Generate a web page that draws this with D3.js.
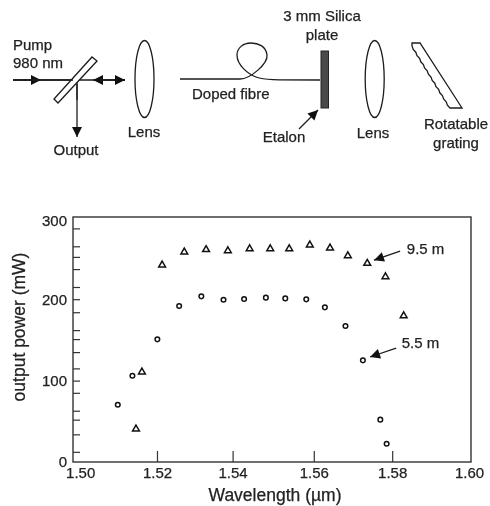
<!DOCTYPE html>
<html lang="en">
<head>
  <meta charset="UTF-8">
  <title>Fibre laser setup and output power</title>
  <style>
    html, body { margin: 0; padding: 0; background: #fff; }
    svg { display: block; filter: blur(0.45px); }
    text { font-family: 'Liberation Sans', Arial, sans-serif; font-size: 15px; fill: #222; stroke: #222; stroke-width: 0.25px; }
    .tick text { font-size: 15px; }
    .axis-title { font-size: 17.5px; }
    .tick line, .domain { stroke: #333; }
    .ln { fill: none; stroke: #1c1c1c; stroke-width: 1.3px; }
  </style>
  <script src="https://d3js.org/d3.v7.min.js"></script>
</head>
<body>
<svg width="490" height="506"></svg>
<script>
  // values
  const xTicks = [1.5013, 1.5207, 1.5398, 1.5603, 1.5801, 1.5995];
  const yTicks = [0, 100, 200, 300];
  const yMinorTicks = [12.5, 34, 52, 63, 85, 115, 135, 151, 162, 184, 215, 237, 252, 265, 287];

  const m55Wave = [1.5108, 1.5145, 1.5208, 1.5263, 1.5319, 1.5375, 1.5427, 1.5482, 1.5531, 1.5584, 1.5631, 1.5683, 1.5727, 1.5771, 1.5787];
  const m55Power = [70.4, 106, 150.7, 191.6, 203.5, 199.4, 200.2, 201.9, 201, 199.8, 190, 167, 124.9, 52, 22.5];
  const m95Wave = [1.5154, 1.5169, 1.522, 1.5276, 1.5331, 1.5386, 1.5441, 1.5493, 1.5541, 1.5593, 1.5644, 1.5689, 1.5738, 1.5784, 1.583];
  const m95Power = [40.5, 110.6, 242, 258, 261, 259.6, 262, 262, 262, 266.6, 263, 253.4, 244, 227.6, 179.7];

  const notes = [
    { label: '9.5 m', lx: 1.5838, ly: 255.5, x1: 1.5821, y1: 259, x2: 1.5755, y2: 248 },
    { label: '5.5 m', lx: 1.5825, ly: 140, x1: 1.5811, y1: 140, x2: 1.5745, y2: 129 }
  ];

  const svg = d3.select('svg');

  svg.append('defs').append('marker')
      .attr('id', 'head')
      .attr('viewBox', '0 0 10 10')
      .attr('refX', 10).attr('refY', 5)
      .attr('markerUnits', 'userSpaceOnUse')
      .attr('markerWidth', 11).attr('markerHeight', 10)
      .attr('orient', 'auto')
    .append('path')
      .attr('d', 'M0,0L10,5L0,10Z')
      .attr('fill', '#111');

  // ---- setup schematic (top half) ----
  const schem = svg.append('g');
  const line = d3.line();
  const seg = (a, b, head) => {
    const p = schem.append('path').attr('class', 'ln').attr('d', line([a, b]));
    if (head) p.attr('marker-end', 'url(#head)');
  };

  seg([13, 80], [125, 80]);
  seg([13, 80], [41, 80], true);
  seg([125, 80], [93, 80], true);
  seg([100, 80], [125, 80], true);
  seg([77, 80], [77, 137], true);

  // beam splitter
  schem.append('path').attr('class', 'ln')
      .style('fill', '#fff')
      .attr('d', line([[54, 99], [58, 103], [97, 61], [92, 57]]) + 'Z');
  seg([13, 80], [73, 80]);
  seg([77, 84], [77, 100]);

  // lenses
  [144.5, 374.7].forEach(cx => {
    schem.append('ellipse').attr('class', 'ln')
        .attr('cx', cx).attr('cy', 79).attr('rx', 9.5).attr('ry', 38.5);
  });

  // doped fibre with its loop
  schem.append('path').attr('class', 'ln')
      .attr('d', 'M180,79 L240,79 C250,79 268,64 267,55 C266,46 258,43 251,43 C243,43 237,48 237,55 C237,65 248,74 256,77 C264,80 272,80 320,80');

  // etalon
  schem.append('rect')
      .attr('x', 321).attr('y', 51).attr('width', 7.5).attr('height', 57)
      .attr('fill', '#4a4a4a').attr('stroke', '#222');
  seg([299, 129], [318, 110], true);

  // grating, sawtooth side generated along the edge
  const teeth = [];
  const nTeeth = 10;
  for (let i = 0; i <= nTeeth; i++) {
    const t = i / nTeeth;
    const px = 412 + t * 38, py = 46 + t * 62;
    teeth.push([px, py]);
    if (i < nTeeth) teeth.push([px + 1.2, py + 3.4]);
  }
  schem.append('path').attr('class', 'ln')
      .attr('d', line([[412, 43], [420, 43], [462, 108], [450, 108]].concat(teeth.reverse())) + 'Z');

  const schemText = [
    ['Pump', 13, 50, 'start'], ['980 nm', 13, 68, 'start'], ['Output', 76, 155, 'middle'],
    ['Lens', 144, 137, 'middle'], ['Doped fibre', 192, 99, 'start'],
    ['3 mm Silica', 322, 21, 'middle'], ['plate', 322, 40, 'middle'], ['Etalon', 284, 142, 'middle'],
    ['Lens', 373, 138, 'middle'], ['Rotatable', 456, 129, 'middle'], ['grating', 456, 148, 'middle']
  ];
  schem.selectAll('text').data(schemText).enter().append('text')
      .attr('x', d => d[1]).attr('y', d => d[2]).attr('text-anchor', d => d[3])
      .text(d => d[0]);

  // ---- power plot (bottom half) ----
  const x = d3.scaleLinear().domain([1.50, 1.60]).range([75, 471]);
  const y = d3.scaleLinear().domain([0, 301]).range([462, 217]);

  svg.append('rect')
      .attr('x', 73).attr('y', 217).attr('width', 398).attr('height', 245)
      .attr('fill', 'none').attr('stroke', '#333').attr('stroke-width', 1.4);

  const xAxis = svg.append('g')
      .attr('transform', 'translate(0,462)')
      .call(d3.axisBottom(x).tickValues(xTicks).tickFormat(d3.format('.2f')).tickSizeInner(-11).tickSizeOuter(0));
  xAxis.select('.domain').remove();
  xAxis.selectAll('.tick text').attr('y', 5).attr('dy', '0.71em');
  xAxis.selectAll('.tick line').attr('stroke-width', 1.2)
      .filter((d, i) => i === 0 || i === xTicks.length - 1).remove();

  const yAxis = svg.append('g')
      .attr('transform', 'translate(73,0)')
      .call(d3.axisLeft(y).tickValues(yTicks).tickSizeInner(-7).tickSizeOuter(0).tickPadding(6));
  yAxis.select('.domain').remove();
  yAxis.selectAll('.tick text').attr('y', d => d === 300 ? 3 : 0);
  yAxis.selectAll('.tick line').attr('stroke-width', 1.2)
      .filter(d => d === 0 || d === 300).remove();

  const yMinor = svg.append('g')
      .attr('transform', 'translate(73,0)')
      .call(d3.axisLeft(y).tickValues(yMinorTicks).tickSizeInner(-7).tickSizeOuter(0).tickFormat(''));
  yMinor.select('.domain').remove();
  yMinor.selectAll('.tick line').attr('stroke-width', 1.2);

  svg.append('g').selectAll('circle')
      .data(d3.zip(m55Wave, m55Power))
      .enter().append('circle')
      .attr('cx', d => x(d[0])).attr('cy', d => y(d[1]))
      .attr('r', 2.3)
      .attr('fill', 'none').attr('stroke', '#111').attr('stroke-width', 1.5);

  const tri = d3.symbol().type(d3.symbolTriangle).size(20);
  svg.append('g').selectAll('path')
      .data(d3.zip(m95Wave, m95Power))
      .enter().append('path')
      .attr('d', tri)
      .attr('transform', d => `translate(${x(d[0])},${y(d[1])})`)
      .attr('fill', 'none').attr('stroke', '#111').attr('stroke-width', 1.5);

  const note = svg.append('g').selectAll('g').data(notes).enter().append('g');
  note.append('path').attr('class', 'ln')
      .attr('d', d => line([[x(d.x1), y(d.y1)], [x(d.x2), y(d.y2)]]))
      .attr('marker-end', 'url(#head)');
  note.append('text')
      .attr('x', d => x(d.lx)).attr('y', d => y(d.ly))
      .text(d => d.label);

  svg.append('text')
      .attr('class', 'axis-title')
      .attr('transform', 'translate(25,327) rotate(-90)')
      .attr('text-anchor', 'middle')
      .text('output power (mW)');

  svg.append('text')
      .attr('class', 'axis-title')
      .attr('x', 275).attr('y', 501)
      .attr('text-anchor', 'middle')
      .text('Wavelength (\u00b5m)');
</script>
</body>
</html>
